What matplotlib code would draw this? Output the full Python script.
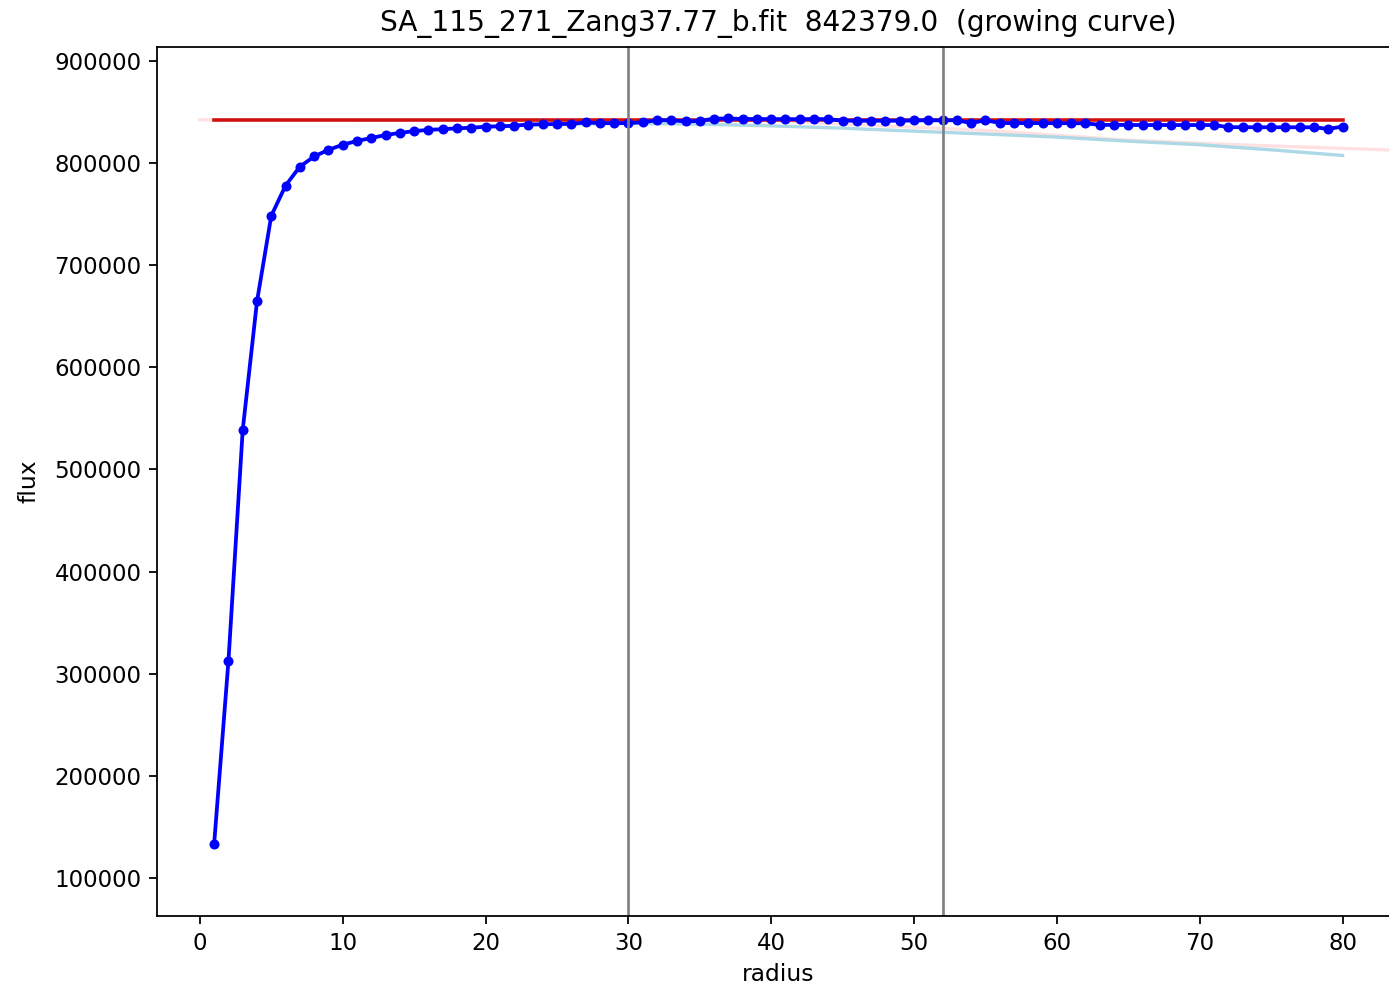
import numpy as np
import matplotlib
matplotlib.use('Agg')
import matplotlib.pyplot as plt

fname = 'SA_115_271_Zang37.77_b.fit'
total_flux = 842379.0
r_inner = 30
r_outer = 52

radius = list(range(1, 81))
flux = [
    133300, 312000, 538500, 664500, 748400, 778000, 796500, 806500, 813000, 818000,
    821700, 824600, 827500, 829600, 831300, 832600, 833200, 834100, 834600, 835700,
    836000, 836600, 837800, 838100, 838300, 838400, 839900, 839200, 839100, 839200,
    840000, 842000, 842000, 840800, 841300, 843600, 843700, 843200, 843200, 843100,
    843100, 843000, 843200, 843000, 841600, 841500, 841500, 841500, 841500, 841800,
    841900, 841900, 842000, 839200, 842000, 839300, 839200, 839200, 839200, 839100,
    839100, 839000, 837500, 837400, 837400, 837300, 837300, 837300, 837300, 837300,
    837300, 835200, 835200, 835100, 835100, 835100, 835100, 835100, 833500, 835800,
]

# smoothed curve of the outer part
smooth_r = [20, 25, 30, 35, 40, 45, 50, 55, 60, 65, 70, 75, 80]
smooth_f = [836000, 838000, 839000, 838200, 836500, 834200, 831300, 828500,
            825500, 821500, 818000, 813000, 807500]

# extrapolated trend
trend_r = [0, 40, 55, 65, 72, 84]
trend_f = [842400, 841500, 832000, 822500, 818300, 812500]


def main():
    fig = plt.figure(figsize=(1389 / 160, 988 / 160), dpi=160)
    ax = fig.add_axes([157 / 1389, 1 - 916 / 988, 1242 / 1389, 869 / 988])

    ax.plot(trend_r, trend_f, color='red', alpha=0.12, lw=1.5)
    ax.plot(smooth_r, smooth_f, color='lightblue', lw=1.5)
    ax.plot([radius[0], radius[-1]], [total_flux, total_flux], color='#d01010', lw=1.6)
    ax.plot(radius, flux, 'b.-', lw=1.7, ms=7)
    ax.axvline(r_inner, color='grey', lw=1.2)
    ax.axvline(r_outer, color='grey', lw=1.2)

    ax.set_xlim(-3.0, 83.95)
    ax.set_ylim(62790, 913700)
    ax.set_xticks(range(0, 81, 10))
    ax.set_yticks(range(100000, 900001, 100000))
    ax.tick_params(labelsize=10.3)
    ax.set_title(fname + '  ' + str(total_flux) + '  (growing curve)', fontsize=12.6, pad=7)
    ax.set_xlabel('radius', fontsize=10.5, labelpad=4)
    ax.set_ylabel('flux', fontsize=10.5, labelpad=6)

    fig.savefig('out.png', dpi=160)


if __name__ == '__main__':
    main()
